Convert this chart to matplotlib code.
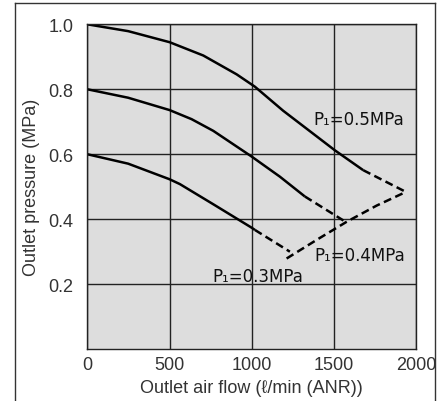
import matplotlib.pyplot as plt
from matplotlib.lines import Line2D

plt.rcParams['font.family'] = ['Liberation Sans', 'DejaVu Sans']

# Outlet pressure curves (flow in l/min, pressure in MPa)
flow_05 = [0, 248, 500, 705, 908, 1019, 1191, 1395, 1506, 1678]
pres_05 = [1.0, 0.979, 0.945, 0.904, 0.846, 0.808, 0.734, 0.655, 0.612, 0.551]
flow_05_dash = [1678, 1938]
pres_05_dash = [0.551, 0.484]

flow_04 = [0, 248, 500, 634, 766, 999, 1171, 1323]
pres_04 = [0.8, 0.774, 0.736, 0.708, 0.672, 0.593, 0.531, 0.470]
flow_04_dash = [1323, 1577]
pres_04_dash = [0.470, 0.390]

flow_03 = [0, 248, 500, 563, 766, 999, 1019]
pres_03 = [0.6, 0.571, 0.523, 0.508, 0.446, 0.374, 0.367]
flow_03_dash = [1019, 1232]
pres_03_dash = [0.367, 0.300]

# envelope (dashed) joining the curve ends
flow_env = [1212, 1400, 1577, 1760, 1938]
pres_env = [0.279, 0.338, 0.392, 0.442, 0.484]

labels = ["P\u2081=0.5MPa", "P\u2081=0.4MPa", "P\u2081=0.3MPa"]
label_pos = [(1372, 0.71), (1378, 0.29), (758, 0.226)]

xticks = [0, 500, 1000, 1500, 2000]
yticks = [0.2, 0.4, 0.6, 0.8, 1.0]

fig = plt.figure(figsize=(4.46, 4.02), dpi=100)
ax = fig.add_axes([0.196, 0.129, 0.737, 0.808])
ax.set_facecolor("#dddddd")

dash = (0, (3.2, 1.8))
for fx, py in [(flow_05, pres_05), (flow_04, pres_04), (flow_03, pres_03)]:
    ax.plot(fx, py, color="black", lw=1.8, solid_capstyle="butt", solid_joinstyle="round")
for fx, py in [(flow_05_dash, pres_05_dash), (flow_04_dash, pres_04_dash),
               (flow_03_dash, pres_03_dash), (flow_env, pres_env)]:
    ax.plot(fx, py, color="black", lw=1.8, linestyle=dash)

for txt, (x, y) in zip(labels, label_pos):
    ax.text(x, y, txt, fontsize=12, ha="left", va="center", color="#111111",
            family="DejaVu Sans")

ax.set_xlim(0, 2000)
ax.set_ylim(0, 1.0)
ax.set_xticks(xticks)
ax.set_yticks(yticks)
ax.set_yticklabels(["%.1f" % v for v in yticks])
ax.tick_params(length=0, labelsize=13, colors="#333333")
ax.tick_params(axis="y", pad=10)
ax.tick_params(axis="x", pad=5)
ax.grid(True, color="#222222", lw=1.0)
ax.set_axisbelow(True)
for s in ax.spines.values():
    s.set_color("#222222")
    s.set_linewidth(1.0)

ax.set_xlabel("Outlet air flow (\u2113/min (ANR))", fontsize=13, color="#333333", labelpad=4)
ax.set_ylabel("Outlet pressure (MPa)", fontsize=13, color="#333333", labelpad=6)

# outer frame (open at the bottom)
fx0, fx1, fy1 = 15 / 446, 435 / 446, 1 - 4 / 402
for xs, ys in [([fx0, fx0], [0, fy1]), ([fx0, fx1], [fy1, fy1]), ([fx1, fx1], [fy1, 0])]:
    fig.add_artist(Line2D(xs, ys, transform=fig.transFigure, color="#333333", lw=1.0))

fig.savefig("out.png", dpi=100)
